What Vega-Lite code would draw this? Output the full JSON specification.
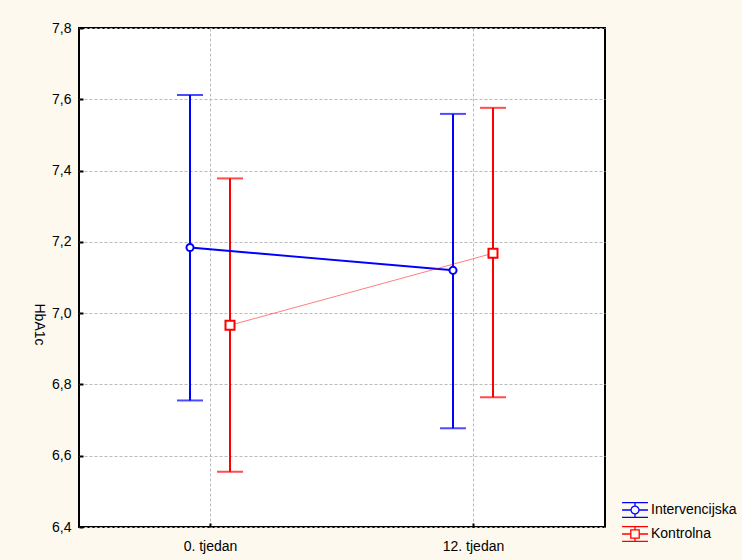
{
  "$schema": "https://vega.github.io/schema/vega-lite/v6.json",
  "width": 526,
  "height": 499,
  "autosize": {"type": "none"},
  "padding": {"left": 79, "top": 28, "right": 137, "bottom": 33},
  "background": "#fdf9ee",
  "data": {
    "values": [
      {"group": "Intervencijska", "week": "0. tjedan", "mean": 7.184, "lo": 6.755, "hi": 7.612},
      {"group": "Kontrolna", "week": "0. tjedan", "mean": 6.966, "lo": 6.555, "hi": 7.378},
      {"group": "Intervencijska", "week": "12. tjedan", "mean": 7.120, "lo": 6.677, "hi": 7.559},
      {"group": "Kontrolna", "week": "12. tjedan", "mean": 7.168, "lo": 6.764, "hi": 7.576}
    ]
  },
  "encoding": {
    "x": {
      "field": "week", "type": "nominal",
      "scale": {"type": "band", "paddingInner": 0, "paddingOuter": 0, "domain": ["0. tjedan", "12. tjedan"]},
      "axis": {"title": null, "labelAngle": 0, "grid": true, "bandPosition": 0.5, "labelPadding": 16}
    },
    "xOffset": {
      "field": "group", "type": "nominal",
      "scale": {"type": "point", "padding": 0, "range": [111, 151], "domain": ["Intervencijska", "Kontrolna"]}
    },
    "color": {
      "field": "group", "type": "nominal",
      "scale": {"domain": ["Intervencijska", "Kontrolna"], "range": ["#0000ff", "#ff0000"]},
      "legend": {
        "title": null, "orient": "none", "legendX": 543, "legendY": 469, "padding": 0,
        "symbolSize": 576, "symbolStrokeWidth": 1.3, "symbolOpacity": 1,
        "labelFont": "Liberation Sans", "labelFontSize": 14, "labelColor": "black",
        "labelOffset": 3, "rowPadding": 0,
        "encode": {
          "symbols": {
            "update": {
              "fill": {"value": "transparent"},
              "opacity": {"value": 1},
              "fillOpacity": {"value": 0},
              "strokeOpacity": {"value": 1},
              "strokeWidth": {"value": 1.3}
            }
          }
        }
      }
    }
  },
  "layer": [
    {
      "mark": {"type": "point", "filled": false, "size": 1, "strokeWidth": 1},
      "encoding": {
        "y": {"field": "mean", "type": "quantitative"},
        "shape": {
          "field": "group", "type": "nominal",
          "scale": {
            "domain": ["Intervencijska", "Kontrolna"],
            "range": [
              "M-1.08,-0.62H1.08M-1.08,0.62H1.08M0,-0.62V-0.33M0,0.33V0.62M-1.08,0H-0.33M0.33,0H1.08M0.33,0A0.33,0.33,0,1,1,-0.33,0A0.33,0.33,0,1,1,0.33,0",
              "M-1.08,-0.62H1.08M-1.08,0.62H1.08M0,-0.62V-0.35M0,0.35V0.62M-1.08,0H-0.35M0.35,0H1.08M-0.35,-0.35H0.35V0.35H-0.35Z"
            ]
          }
        }
      }
    },
    {
      "mark": {"type": "rule", "strokeWidth": 2},
      "encoding": {
        "y": {
          "field": "lo", "type": "quantitative",
          "scale": {"domain": [6.4, 7.8], "nice": false, "zero": false},
          "axis": {
            "title": "HbA1c", "values": [6.4, 6.6, 6.8, 7.0, 7.2, 7.4, 7.6, 7.8],
            "labelExpr": "replace(format(datum.value, '.1f'), '.', ',')",
            "grid": true, "labelPadding": 12,
            "titleAngle": 90, "titleX": -41, "titleY": 296, "titleAlign": "center", "titleBaseline": "middle",
            "titleFont": "Liberation Sans", "titleFontSize": 14, "titleFontWeight": "normal", "titleColor": "black"
          }
        },
        "y2": {"field": "hi"}
      }
    },
    {
      "mark": {"type": "tick", "size": 26, "thickness": 2},
      "encoding": {"y": {"field": "lo", "type": "quantitative"}}
    },
    {
      "mark": {"type": "tick", "size": 26, "thickness": 2},
      "encoding": {"y": {"field": "hi", "type": "quantitative"}}
    },
    {
      "transform": [{"filter": "datum.group === 'Intervencijska'"}],
      "mark": {"type": "line", "strokeWidth": 2},
      "encoding": {"y": {"field": "mean", "type": "quantitative"}}
    },
    {
      "transform": [{"filter": "datum.group === 'Kontrolna'"}],
      "mark": {"type": "line", "strokeWidth": 1, "strokeOpacity": 0.5},
      "encoding": {"y": {"field": "mean", "type": "quantitative"}}
    },
    {
      "transform": [{"filter": "datum.group === 'Intervencijska'"}],
      "mark": {"type": "point", "shape": "circle", "size": 50, "filled": false, "fill": "white", "strokeWidth": 2, "opacity": 1},
      "encoding": {"y": {"field": "mean", "type": "quantitative"}}
    },
    {
      "transform": [{"filter": "datum.group === 'Kontrolna'"}],
      "mark": {"type": "point", "shape": "square", "size": 81, "filled": false, "fill": "white", "strokeWidth": 2, "opacity": 1},
      "encoding": {"y": {"field": "mean", "type": "quantitative"}}
    }
  ],
  "config": {
    "view": {"fill": "white", "stroke": "black", "strokeWidth": 2},
    "axis": {
      "labelFont": "Liberation Sans", "labelFontSize": 14, "labelColor": "black",
      "domain": false, "gridColor": "#bbbbbb", "gridDash": [3, 2], "gridWidth": 1,
      "tickColor": "black", "tickSize": -4, "tickWidth": 2
    }
  }
}
